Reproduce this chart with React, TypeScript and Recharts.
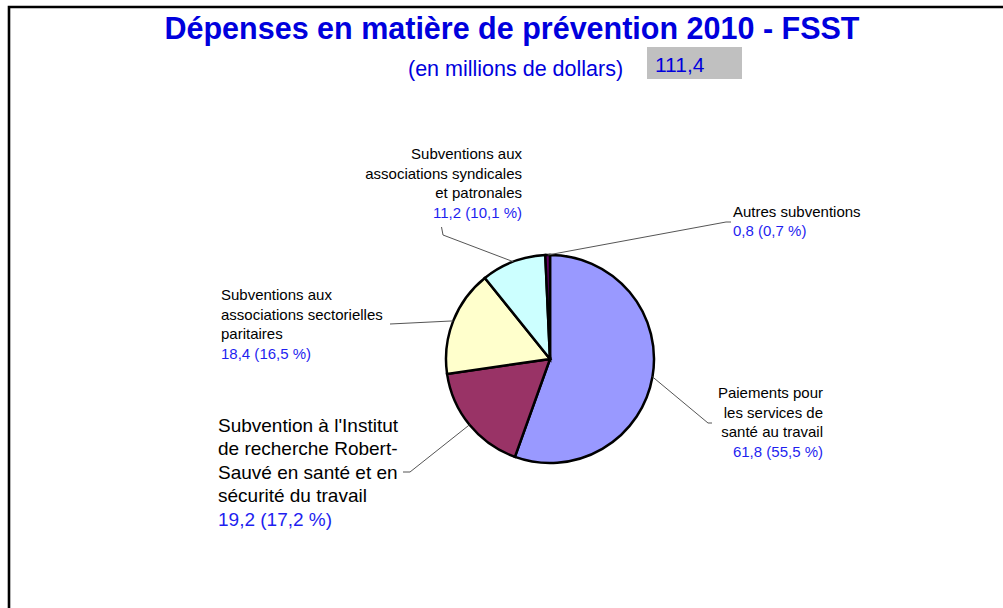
import React from "react";
import { PieChart, Pie, Cell } from "recharts";

// données (millions de dollars)
const categories = [
  "Paiements pour les services de santé au travail",
  "Subvention à l'Institut de recherche Robert-Sauvé en santé et en sécurité du travail",
  "Subventions aux associations sectorielles paritaires",
  "Subventions aux associations syndicales et patronales",
  "Autres subventions",
];
const values = [61.8, 19.2, 18.4, 11.2, 0.8];
const percents = [55.5, 17.2, 16.5, 10.1, 0.7];
const labelLines = [
  ["Paiements pour", "les services de", "santé au travail"],
  ["Subvention à l'Institut", "de recherche Robert-", "Sauvé en santé et en", "sécurité du travail"],
  ["Subventions aux", "associations sectorielles", "paritaires"],
  ["Subventions aux", "associations syndicales", "et patronales"],
  ["Autres subventions"],
];
const total = "111,4";
const colors = ["#9999FF", "#993366", "#FFFFCC", "#CCFFFF", "#660066"];

const FONT = "'Liberation Sans', Arial, sans-serif";
const RADIAN = Math.PI / 180;
const fr = (v: number) => v.toFixed(1).replace(".", ",");

// placement des étiquettes, relatif au centre du camembert
const layout = [
  { x: 273, anchor: "end", y0: 39, step: 19.5, size: 15, pts: [[158, 64], [162, 64]] },
  { x: -332, anchor: "start", y0: 73, step: 23.4, size: 19, pts: [[-140, 113], [-147, 113]] },
  { x: -329, anchor: "start", y0: -59, step: 19.5, size: 15, pts: [[-160, -35]] },
  { x: -28, anchor: "end", y0: -200, step: 19.5, size: 15, pts: [[-107, -124], [-108.5, -132]] },
  { x: 183, anchor: "start", y0: -142, step: 19, size: 15, pts: [[176, -137], [181, -137]] },
];

const data = categories.map((c, i) => ({ name: c, value: values[i] }));

const renderLabel = (p: any) => {
  const { cx, cy, midAngle, outerRadius, index } = p;
  const L = layout[index];
  const sx = cx + outerRadius * Math.cos(-midAngle * RADIAN);
  const sy = cy + outerRadius * Math.sin(-midAngle * RADIAN);
  const pts = [[sx, sy], ...L.pts.map(([x, y]) => [cx + x, cy + y])];
  const lines = labelLines[index];
  return (
    <g key={"lb" + index}>
      <polyline points={pts.map((q) => q.join(",")).join(" ")} fill="none" stroke="#555" strokeWidth={1} />
      <text textAnchor={L.anchor as any} fontFamily={FONT} fontSize={L.size}>
        {lines.map((t, k) => (
          <tspan key={k} x={cx + L.x} y={cy + L.y0 + k * L.step} fill="#000">{t}</tspan>
        ))}
        <tspan x={cx + L.x} y={cy + L.y0 + lines.length * L.step} fill="#1f1ff0">
          {fr(values[index])} ({fr(percents[index])} %)
        </tspan>
      </text>
    </g>
  );
};

export default function App() {
  return (
    <div style={{ position: "absolute", left: 0, top: 0, width: 1003, height: 608, background: "#fff" }}>
      <PieChart width={1003} height={608} margin={{ top: 0, right: 0, bottom: 0, left: 0 }}>
        <Pie
          data={data}
          dataKey="value"
          cx={550}
          cy={359}
          outerRadius={104}
          startAngle={90}
          endAngle={-270}
          stroke="#000"
          strokeWidth={2.5}
          label={renderLabel}
          labelLine={false}
          isAnimationActive={false}
        >
          {data.map((_, i) => (
            <Cell key={i} fill={colors[i]} />
          ))}
        </Pie>
      </PieChart>
      <svg width={1003} height={608} style={{ position: "absolute", left: 0, top: 0, pointerEvents: "none" }}>
        <path d="M9,608 L9,7 L1003,7" fill="none" stroke="#000" strokeWidth={2.6} />
        <text x={512} y={39} textAnchor="middle" fontFamily={FONT} fontSize={30.5} fontWeight="bold" fill="#0000dd">
          Dépenses en matière de prévention 2010 - FSST
        </text>
        <text x={408} y={76} fontFamily={FONT} fontSize={21.5} fill="#0000dd">
          (en millions de dollars)
        </text>
        <rect x={647} y={47} width={95} height={32} fill="#c0c0c0" />
        <text x={655} y={72} fontFamily={FONT} fontSize={21} fill="#0000dd">{total}</text>
      </svg>
    </div>
  );
}
